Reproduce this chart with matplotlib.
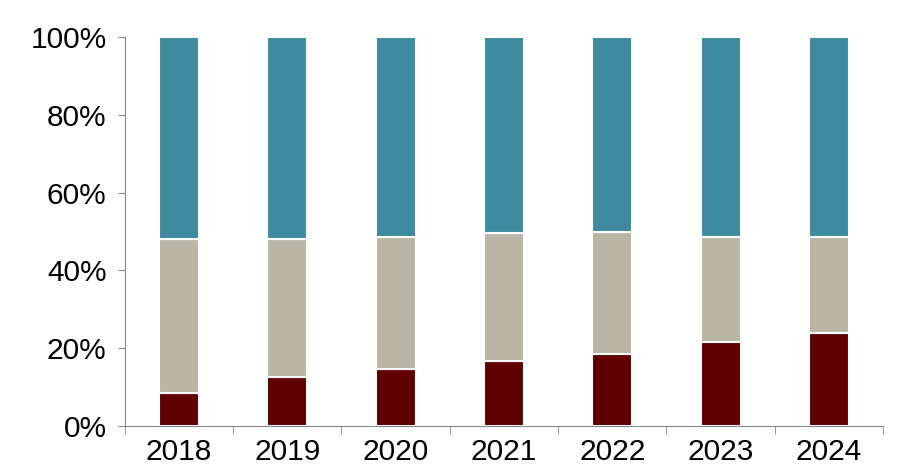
import numpy as np
import matplotlib.pyplot as plt

years = ['2018', '2019', '2020', '2021', '2022', '2023', '2024']
bottom_share = [8.5, 12.6, 14.7, 16.7, 18.5, 21.6, 23.9]
middle_share = [39.6, 35.5, 33.9, 32.9, 31.4, 27.0, 24.7]
top_share = [100 - a - b for a, b in zip(bottom_share, middle_share)]

plt.rcParams['font.family'] = ['Liberation Sans', 'DejaVu Sans']
fig = plt.figure(figsize=(9.17, 4.72), dpi=100)
ax = fig.add_axes([0.136, 0.0975, 0.827, 0.824])

x = np.arange(len(years))
w = 0.37
kw = dict(width=w, edgecolor='white', linewidth=1.5)
ax.bar(x, bottom_share, color='#600000', **kw)
ax.bar(x, middle_share, bottom=bottom_share, color='#BAB6A6', **kw)
ax.bar(x, top_share, bottom=np.add(bottom_share, middle_share), color='#3E8A9E', **kw)

ax.set_xlim(-0.5, len(years) - 0.5)
ax.set_ylim(0, 100)
ax.set_yticks(range(0, 101, 20))
ax.set_yticklabels([f'{v}%' for v in range(0, 101, 20)], fontsize=21.5)
ax.set_xticks(x)
ax.set_xticklabels(years, fontsize=21.5)
ax.tick_params(axis='x', length=0, pad=9)
ax.set_xticks(np.arange(-0.5, len(years)), minor=True)
ax.tick_params(axis='x', which='minor', length=6, color='#888888')
ax.tick_params(axis='y', length=5, color='#888888', pad=8)
for s in ['top', 'right']:
    ax.spines[s].set_visible(False)
for s in ['left', 'bottom']:
    ax.spines[s].set_color('#888888')

fig.savefig('out.png', dpi=100)
